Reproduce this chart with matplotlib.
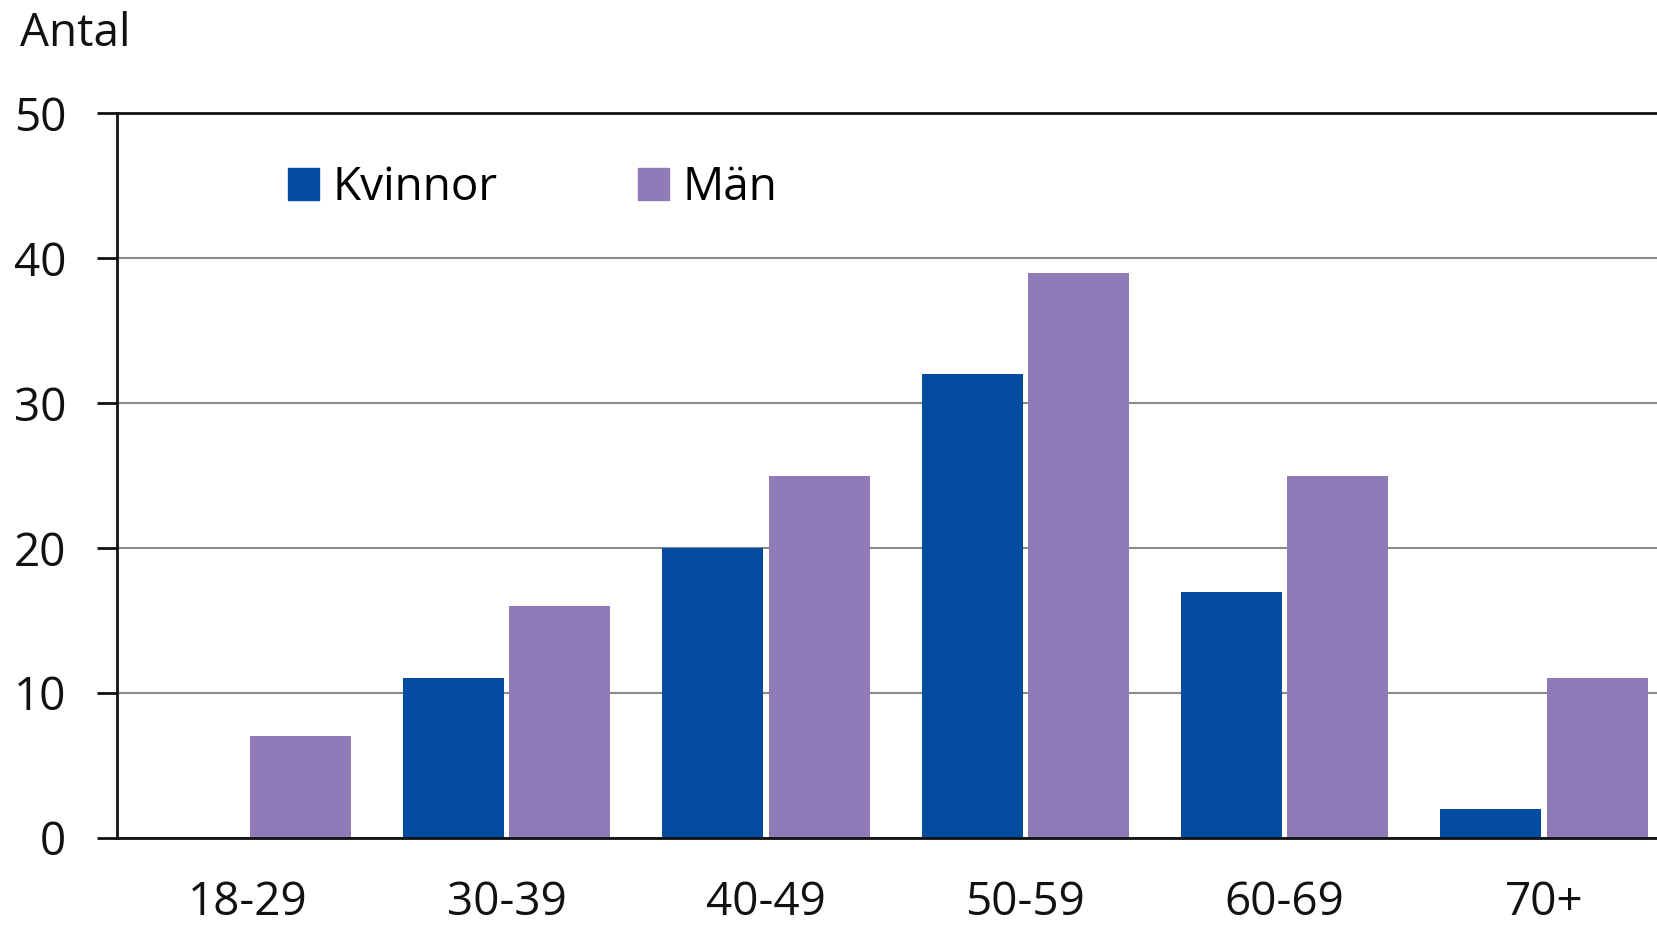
import numpy as np
import matplotlib.pyplot as plt
from matplotlib.patches import Patch

# data
groups = ["18-29", "30-39", "40-49", "50-59", "60-69", "70+"]
kvinnor = [0, 11, 20, 32, 17, 2]
man = [7, 16, 25, 39, 25, 11]

blue = "#044ca0"
purple = "#8f7bb7"
fs = 33

plt.rcParams["font.family"] = ["Open Sans", "DejaVu Sans"]

fig = plt.figure(figsize=(16.58, 9.31), dpi=100)
ax = fig.add_axes([117 / 1658, 0.0999, 1 - 117 / 1658, 0.8786 - 0.0999])

x = np.arange(len(groups))
w = 0.39
gap = 0.02
ax.bar(x - (w + gap) / 2, kvinnor, w, color=blue, zorder=3)
ax.bar(x + (w + gap) / 2, man, w, color=purple, zorder=3)

ax.set_xlim(-0.503, 5.44)
ax.set_ylim(0, 50)
ax.set_yticks(range(0, 51, 10))
ax.set_xticks(x)
ax.set_xticklabels(groups)

ax.grid(axis="y", color="#8a8a8a", linewidth=1.5, zorder=0)
ax.grid(axis="x", visible=False)
ax.spines["right"].set_visible(False)
for s in ["left", "bottom", "top"]:
    ax.spines[s].set_linewidth(2)
    ax.spines[s].set_color("#111111")
ax.spines["bottom"].set_zorder(4)

ax.tick_params(axis="y", direction="out", length=14.4, width=2, pad=22,
               labelsize=fs, colors="#111111")
ax.tick_params(axis="x", length=0, pad=30, labelsize=fs, colors="#111111")

fig.text(20 / 1658, 1 - 34 / 931, "Antal", fontsize=fs, va="center", ha="left",
         color="#111111")

handles = [Patch(color=blue, label="Kvinnor"), Patch(color=purple, label="Män")]
fig.legend(handles=handles, loc="center left", bbox_to_anchor=(288 / 1658, 1 - 188 / 931),
           ncol=2, frameon=False, fontsize=fs, handlelength=0.68, handleheight=0.68,
           handletextpad=0.3, columnspacing=3.05, borderpad=0, borderaxespad=0)

fig.savefig("out.png", dpi=100)
